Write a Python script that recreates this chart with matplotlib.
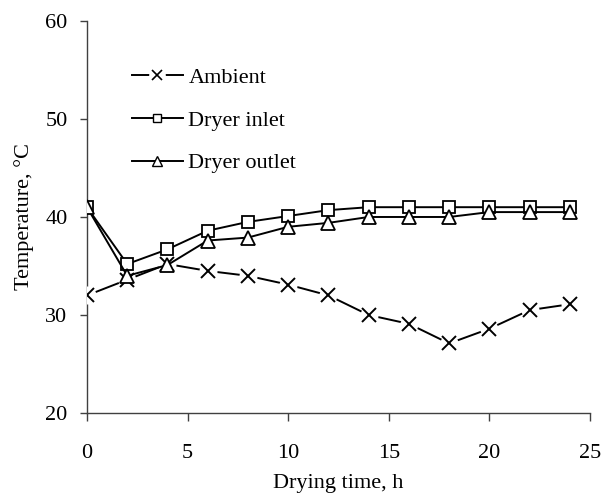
import matplotlib.pyplot as plt
from matplotlib.lines import Line2D
from matplotlib.legend_handler import HandlerTuple

plt.rcParams['font.family'] = ['Liberation Serif', 'DejaVu Serif']

# Drying time (h) and temperatures (deg C)
hours = [0, 2, 4, 6, 8, 10, 12, 14, 16, 18, 20, 22, 24]
ambient = [32.0, 33.6, 35.2, 34.5, 34.0, 33.1, 32.0, 30.0, 29.1, 27.1, 28.6, 30.5, 31.1]
dryer_inlet = [41.0, 35.2, 36.7, 38.6, 39.5, 40.1, 40.7, 41.0, 41.0, 41.0, 41.0, 41.0, 41.0]
dryer_outlet = [41.0, 34.0, 35.1, 37.6, 37.9, 39.0, 39.4, 40.0, 40.0, 40.0, 40.5, 40.5, 40.5]

fig = plt.figure(figsize=(6.02, 4.99), dpi=100)
ax = fig.add_axes([0.1445, 0.1723, 0.8355, 0.7857])

lw = 1.4
# ambient: line with a white halo behind each x marker (Excel style gaps)
ax.plot(hours, ambient, color='black', linewidth=lw, zorder=2)
ax.plot(hours, ambient, linestyle='none', marker='o', markersize=13,
        markerfacecolor='white', markeredgecolor='none', zorder=3)
ax.plot(hours, ambient, linestyle='none', marker='x', markersize=10,
        markeredgecolor='black', markeredgewidth=1.4, zorder=4)

ax.plot(hours, dryer_inlet, color='black', linewidth=lw, marker='s', markersize=8,
        markerfacecolor='white', markeredgecolor='black', markeredgewidth=1.3, zorder=5)
ax.plot(hours, dryer_outlet, color='black', linewidth=lw, marker='^', markersize=9.5,
        markerfacecolor='white', markeredgecolor='black', markeredgewidth=1.3, zorder=6)

ax.set_xlim(0, 25)
ax.set_ylim(20, 60)
ax.set_xticks([0, 5, 10, 15, 20, 25])
ax.set_yticks([20, 30, 40, 50, 60])

for s in ['top', 'right']:
    ax.spines[s].set_visible(False)
for s in ['left', 'bottom']:
    ax.spines[s].set_color('#404040')
    ax.spines[s].set_linewidth(1.0)

ax.tick_params(axis='x', direction='out', length=6, width=1, color='#404040', pad=16, labelsize=16)
ax.tick_params(axis='y', direction='out', length=5, width=1, color='#404040', pad=9, labelsize=16)

ax.set_xlabel('Drying time, h', fontsize=16, labelpad=8)
ax.set_ylabel('Temperature, \u00b0C', fontsize=16, labelpad=8)

# legend handles
amb_line = Line2D([], [], color='black', linewidth=lw)
amb_halo = Line2D([], [], linestyle='none', marker='o', markersize=12,
                  markerfacecolor='white', markeredgecolor='none')
amb_x = Line2D([], [], linestyle='none', marker='x', markersize=7,
               markeredgecolor='black', markeredgewidth=1.2)
inlet_h = Line2D([], [], color='black', linewidth=lw, marker='s', markersize=6,
                 markerfacecolor='white', markeredgecolor='black')
outlet_h = Line2D([], [], color='black', linewidth=lw, marker='^', markersize=6.5,
                  markerfacecolor='white', markeredgecolor='black')

leg = ax.legend([(amb_line, amb_halo, amb_x), inlet_h, outlet_h],
                ['Ambient', 'Dryer inlet', 'Dryer outlet'],
                handler_map={tuple: HandlerTuple(ndivide=1, pad=0)},
                loc='upper left', bbox_to_anchor=(0.089, 0.882), frameon=False,
                fontsize=16, handlelength=2.3, handletextpad=0.25,
                labelspacing=1.0, borderpad=0, borderaxespad=0, numpoints=1)

fig.savefig('out.png', dpi=100, facecolor='white')
